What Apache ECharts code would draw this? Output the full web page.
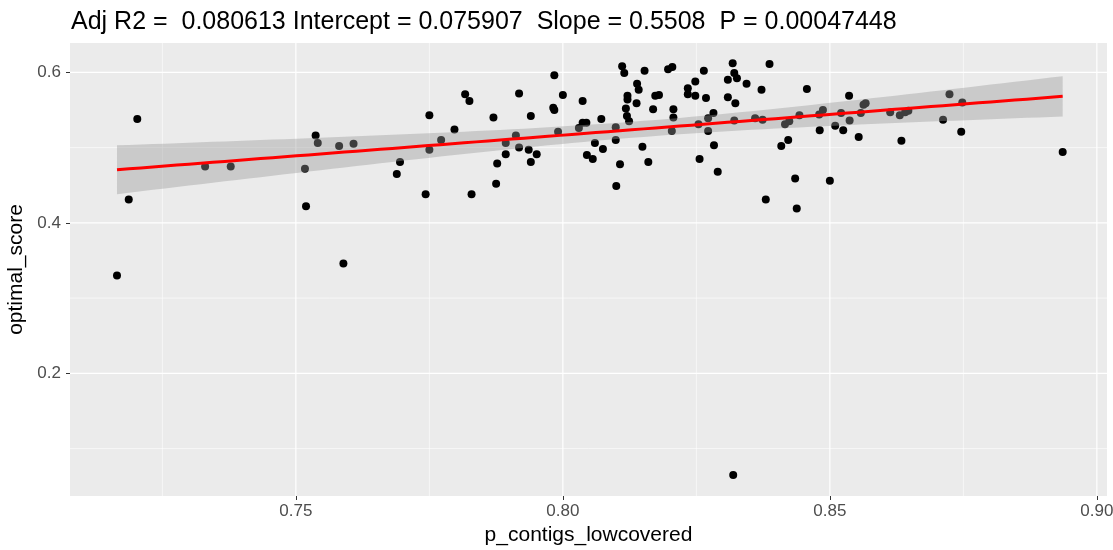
<!DOCTYPE html>
<html>
<head>
<meta charset="utf-8">
<script src="https://cdn.jsdelivr.net/npm/echarts@6/dist/echarts.min.js"></script>
<style>
html, body { margin: 0; padding: 0; background: #fff; }
#main { width: 1113px; height: 550px; }
</style>
</head>
<body>
<div id="main"></div>
<script>
// p_contigs_lowcovered
var xVals = [0.7165, 0.7187, 0.7203, 0.7330, 0.7378, 0.7517, 0.7537, 0.7541, 0.7519, 0.7589,
	0.7581, 0.7608, 0.7689, 0.7695, 0.7750, 0.7750, 0.7743, 0.7772, 0.7797, 0.7817,
	0.7825, 0.7829, 0.7870, 0.7875, 0.7877, 0.7893, 0.7893, 0.7912, 0.7918, 0.7918,
	0.7936, 0.7940, 0.7940, 0.7951, 0.7984, 0.7982, 0.7984, 0.7991, 0.8000, 0.8030,
	0.8037, 0.8037, 0.8044, 0.8045, 0.8056, 0.8060, 0.8072, 0.8075, 0.8099, 0.8099,
	0.8100, 0.8107, 0.8111, 0.8115, 0.8121, 0.8121, 0.8118, 0.8120, 0.8124, 0.8138,
	0.8139, 0.8142, 0.8149, 0.8153, 0.8160, 0.8169, 0.8173, 0.8180, 0.8197, 0.8205,
	0.8204, 0.8207, 0.8207, 0.8234, 0.8234, 0.8248, 0.8248, 0.8264, 0.8268, 0.8254,
	0.8256, 0.8272, 0.8272, 0.8282, 0.8283, 0.8290, 0.8309, 0.8309, 0.8318, 0.8321,
	0.8326, 0.8323, 0.8321, 0.8344, 0.8360, 0.8372, 0.8374, 0.8387, 0.8380, 0.8409,
	0.8422, 0.8416, 0.8424, 0.8435, 0.8438, 0.8443, 0.8457, 0.8480, 0.8481, 0.8487,
	0.8500, 0.8510, 0.8521, 0.8525, 0.8536, 0.8537, 0.8554, 0.8558, 0.8563, 0.8567,
	0.8613, 0.8631, 0.8641, 0.8647, 0.8634, 0.8712, 0.8724, 0.8748, 0.8746, 0.8936,
	0.8319];
// optimal_score
var yVals = [0.330, 0.431, 0.538, 0.475, 0.475, 0.472, 0.516, 0.506, 0.422, 0.346,
	0.502, 0.505, 0.465, 0.481, 0.543, 0.497, 0.438, 0.510, 0.524, 0.571,
	0.562, 0.438, 0.540, 0.452, 0.479, 0.491, 0.506, 0.516, 0.500, 0.572,
	0.497, 0.481, 0.542, 0.491, 0.596, 0.553, 0.550, 0.521, 0.570, 0.526,
	0.562, 0.533, 0.533, 0.490, 0.485, 0.506, 0.538, 0.498, 0.527, 0.510,
	0.449, 0.478, 0.608, 0.599, 0.569, 0.564, 0.552, 0.542, 0.535, 0.559,
	0.585, 0.577, 0.501, 0.602, 0.481, 0.551, 0.569, 0.570, 0.604, 0.607,
	0.522, 0.551, 0.540, 0.579, 0.571, 0.588, 0.569, 0.602, 0.566, 0.531,
	0.485, 0.539, 0.522, 0.546, 0.503, 0.468, 0.590, 0.567, 0.612, 0.599,
	0.592, 0.559, 0.536, 0.585, 0.539, 0.577, 0.537, 0.611, 0.431, 0.502,
	0.510, 0.531, 0.535, 0.459, 0.419, 0.543, 0.578, 0.544, 0.523, 0.550,
	0.456, 0.529, 0.546, 0.523, 0.569, 0.536, 0.514, 0.546, 0.557, 0.559,
	0.547, 0.543, 0.547, 0.549, 0.509, 0.537, 0.571, 0.560, 0.521, 0.494,
	0.065];

var intercept = 0.075907;
var slope = 0.5508;
var titleText = 'Adj R2 =  0.080613 Intercept = 0.075907  Slope = 0.5508  P = 0.00047448';

var xMajor = [0.75, 0.80, 0.85, 0.90];
var xMinor = [0.725, 0.775, 0.825, 0.875];
var yMajor = [0.2, 0.4, 0.6];
var yMinor = [0.1, 0.3, 0.5];

var xLo = 0.7077, xHi = 0.9019;
var yLo = 0.037, yHi = 0.639;

// points
var pts = [];
for (var i = 0; i < xVals.length; i++) pts.push([xVals[i], yVals[i]]);

// lm fit + 95% band, like geom_smooth(method = "lm")
var n = xVals.length;
var xbar = 0, sxx = 0, sse = 0;
for (var i = 0; i < n; i++) xbar += xVals[i];
xbar /= n;
for (var i = 0; i < n; i++) {
	sxx += (xVals[i] - xbar) * (xVals[i] - xbar);
	var r = yVals[i] - (intercept + slope * xVals[i]);
	sse += r * r;
}
var s = Math.sqrt(sse / (n - 2));
var tq = 1.9785;
var xmn = Math.min.apply(null, xVals), xmx = Math.max.apply(null, xVals);
var fitLine = [], upper = [], lower = [];
for (var k = 0; k < 80; k++) {
	var xx = xmn + (xmx - xmn) * k / 79;
	var yy = intercept + slope * xx;
	var se = s * Math.sqrt(1 / n + (xx - xbar) * (xx - xbar) / sxx);
	fitLine.push([xx, yy]);
	upper.push([xx, yy + tq * se]);
	lower.push([xx, yy - tq * se]);
}

function vgrid(width) {
	return function(params, api) {
		var cs = params.coordSys;
		var x = api.coord([api.value(0), api.value(1)])[0];
		return {
			type: 'line',
			shape: { x1: x, y1: cs.y, x2: x, y2: cs.y + cs.height },
			style: { stroke: '#FFFFFF', lineWidth: width }
		};
	};
}

function hgrid(width) {
	return function(params, api) {
		var cs = params.coordSys;
		var y = api.coord([api.value(0), api.value(1)])[1];
		return {
			type: 'line',
			shape: { x1: cs.x, y1: y, x2: cs.x + cs.width, y2: y },
			style: { stroke: '#FFFFFF', lineWidth: width }
		};
	};
}

var chart = echarts.init(document.getElementById('main'));

option = {
	animation: false,
	backgroundColor: '#FFFFFF',
	textStyle: { fontFamily: 'Liberation Sans' },
	title: {
		text: titleText,
		left: 66,
		top: 5,
		textStyle: { fontSize: 25, fontWeight: 'normal', color: '#000000', fontFamily: 'Liberation Sans' }
	},
	grid: {
		left: 70,
		right: 6,
		top: 43,
		bottom: 54,
		show: true,
		backgroundColor: '#EBEBEB',
		borderWidth: 0,
		outerBoundsMode: 'none'
	},
	xAxis: {
		type: 'value',
		min: xLo,
		max: xHi,
		name: 'p_contigs_lowcovered',
		nameLocation: 'middle',
		nameGap: 29,
		nameTextStyle: { fontSize: 21, color: '#000000' },
		axisLine: { show: false },
		axisTick: { show: true, length: 4, customValues: xMajor, lineStyle: { color: '#333333', width: 1 } },
		axisLabel: {
			customValues: xMajor,
			margin: 7,
			fontSize: 17,
			color: '#4D4D4D',
			formatter: function(v) { return v.toFixed(2); }
		},
		splitLine: { show: false }
	},
	yAxis: {
		type: 'value',
		min: yLo,
		max: yHi,
		name: 'optimal_score',
		nameLocation: 'middle',
		nameGap: 41,
		nameTextStyle: { fontSize: 21, color: '#000000' },
		axisLine: { show: false },
		axisTick: { show: true, length: 4, customValues: yMajor, lineStyle: { color: '#333333', width: 1 } },
		axisLabel: {
			customValues: yMajor,
			margin: 9,
			fontSize: 17,
			color: '#4D4D4D',
			formatter: function(v) { return v.toFixed(1); }
		},
		splitLine: { show: false }
	},
	series: [{
		type: 'custom',
		z: 1,
		silent: true,
		renderItem: vgrid(0.6),
		data: xMinor.map(function(v) { return [v, yLo]; })
	}, {
		type: 'custom',
		z: 1,
		silent: true,
		renderItem: hgrid(0.6),
		data: yMinor.map(function(v) { return [xLo, v]; })
	}, {
		type: 'custom',
		z: 1,
		silent: true,
		renderItem: vgrid(1.2),
		data: xMajor.map(function(v) { return [v, yLo]; })
	}, {
		type: 'custom',
		z: 1,
		silent: true,
		renderItem: hgrid(1.2),
		data: yMajor.map(function(v) { return [xLo, v]; })
	}, {
		type: 'scatter',
		z: 3,
		data: pts,
		symbolSize: 8,
		itemStyle: { color: '#000000', opacity: 1 }
	}, {
		type: 'custom',
		z: 4,
		silent: true,
		data: [[xmn, intercept + slope * xmn]],
		renderItem: function(params, api) {
			var poly = [];
			for (var k = 0; k < upper.length; k++) poly.push(api.coord(upper[k]));
			for (var k = lower.length - 1; k >= 0; k--) poly.push(api.coord(lower[k]));
			return {
				type: 'polygon',
				shape: { points: poly },
				style: { fill: 'rgba(153,153,153,0.4)' }
			};
		}
	}, {
		type: 'line',
		z: 5,
		data: fitLine,
		showSymbol: false,
		silent: true,
		lineStyle: { color: '#FF0000', width: 3 }
	}]
};

chart.setOption(option);
</script>
</body>
</html>
